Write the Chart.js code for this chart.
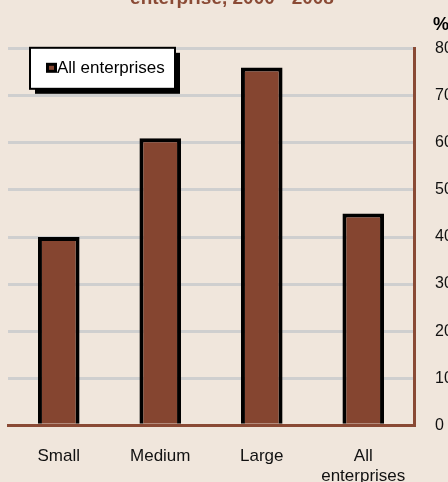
<!DOCTYPE html>
<html>
<head>
<meta charset="utf-8">
<script src="https://cdn.jsdelivr.net/npm/chart.js@4/dist/chart.umd.min.js"></script>
<style>
	body { margin: 0; background: #f0e6dc; overflow: hidden; width: 448px; height: 482px; }
	#wrap { position: absolute; left: 0; top: -13px; }
</style>
</head>
<body>
<div id="wrap"><canvas id="chart" width="456" height="521"></canvas></div>
<script>
//enterprise size classes on the x axis
const sizes = ['Small', 'Medium', 'Large', ['All', 'enterprises']]
//share of enterprises in %
const shares = [40, 61, 76, 45]
//tick values on the right axis
const y_ticks = [0, 10, 20, 30, 40, 50, 60, 70, 80]

const series_name = 'All enterprises'
const title_text = 'enterprise, 2000 - 2008'

const brown = '#8a4a35'
const bar_brown = '#854530'

//legend box drawn inside the plot, top left, with a black drop shadow
const legendBox = {
	id: 'legendBox',
	afterDraw(chart) {
		const ctx = chart.ctx
		const area = chart.chartArea
		const x = area.left + 22
		const y = area.top - 1
		const w = 145
		const h = 41
		ctx.save()
		//shadow
		ctx.fillStyle = '#000'
		ctx.fillRect(x + 5, y + 5, w, h)
		//box
		ctx.fillStyle = '#fff'
		ctx.fillRect(x, y, w, h)
		ctx.lineWidth = 2
		ctx.strokeStyle = '#000'
		ctx.strokeRect(x, y, w, h)
		//marker
		ctx.fillStyle = '#000'
		ctx.fillRect(x + 16, y + 15, 11, 10)
		ctx.fillStyle = chart.data.datasets[0].backgroundColor
		ctx.fillRect(x + 19, y + 18, 5, 4)
		//label
		ctx.fillStyle = '#000'
		ctx.font = '17px "Liberation Sans", Arial, sans-serif'
		ctx.textBaseline = 'middle'
		ctx.fillText(chart.data.datasets[0].label, x + 27, y + 21)
		ctx.restore()
	}
}

//unit label above the right axis
const unitLabel = {
	id: 'unitLabel',
	afterDraw(chart) {
		const ctx = chart.ctx
		ctx.save()
		ctx.fillStyle = '#000'
		ctx.font = 'bold 18px "Liberation Sans", Arial, sans-serif'
		ctx.textBaseline = 'alphabetic'
		ctx.fillText('%', chart.chartArea.right + 19, chart.chartArea.top - 19)
		ctx.restore()
	}
}

const graph = document.getElementById('chart')

const myChart = new Chart(graph, {
	type: 'bar',
	data: {
		labels: sizes,
		datasets: [{
			label: series_name,
			data: shares,
			backgroundColor: bar_brown,
			borderColor: '#000',
			borderWidth: 4,
			barPercentage: 0.41,
			categoryPercentage: 1
		}]
	},
	options: {
		responsive: false,
		animation: false,
		layout: { padding: { left: 8, top: 0, right: 0, bottom: 0 } },
		plugins: {
			legend: { display: false },
			tooltip: { enabled: false },
			title: {
				display: true,
				text: title_text,
				color: brown,
				font: { family: '"Liberation Sans", Arial, sans-serif', size: 19, weight: 'bold' },
				padding: { top: 0, bottom: 39 }
			}
		},
		scales: {
			x: {
				grid: { display: false, drawTicks: false },
				border: { display: true, color: brown, width: 3 },
				ticks: {
					color: '#111',
					padding: 21,
					maxRotation: 0,
					font: { family: '"Liberation Sans", Arial, sans-serif', size: 17 }
				}
			},
			y: {
				position: 'right',
				min: y_ticks[0],
				max: y_ticks[y_ticks.length - 1],
				afterFit(scale) { scale.width = 42 },
				afterBuildTicks(scale) { scale.ticks = y_ticks.map(v => ({ value: v })) },
				grid: { color: '#cfcfcf', lineWidth: 3, drawTicks: false },
				border: { display: true, color: brown, width: 3 },
				ticks: {
					color: '#111',
					padding: 21,
					font: { family: '"Liberation Sans", Arial, sans-serif', size: 16 }
				}
			}
		}
	},
	plugins: [legendBox, unitLabel]
})
</script>
</body>
</html>
